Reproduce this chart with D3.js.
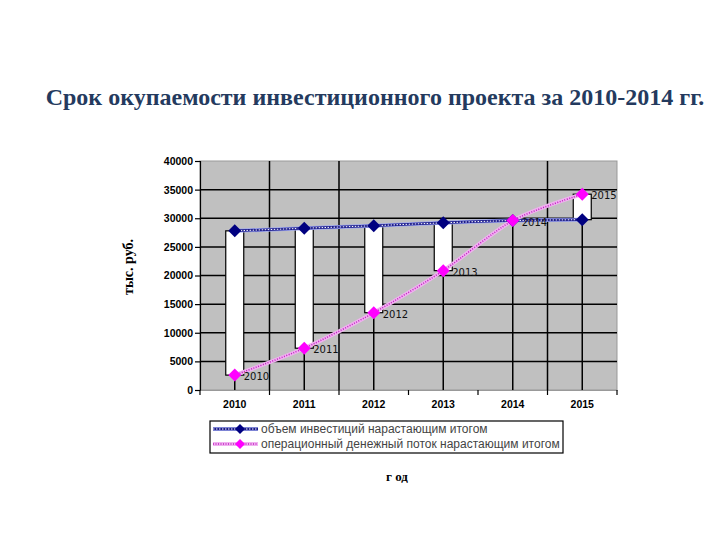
<!DOCTYPE html>
<html>
<head>
<meta charset="utf-8">
<script src="https://cdn.jsdelivr.net/npm/d3@7"></script>
<style>
  body { margin: 0; background: #fff; }
</style>
</head>
<body>
<div id="chart"></div>
<script>
// chart data
var years = ["2010", "2011", "2012", "2013", "2014", "2015"];
var invest = [27800, 28250, 28700, 29200, 29600, 29750];   // объем инвестиций
var cashflow = [2600, 7300, 13500, 20850, 29600, 34200];  // денежный поток
var yTicks = [0, 5000, 10000, 15000, 20000, 25000, 30000, 35000, 40000];
var seriesNames = ["объем инвестиций нарастающим итогом",
                   "операционный денежный поток нарастающим итогом"];

var W = 720, H = 540;
var margin = {top: 161, right: 103, bottom: 150, left: 200};
var width = W - margin.left - margin.right,
    height = H - margin.top - margin.bottom;

var svg = d3.select("#chart").append("svg")
  .attr("width", W).attr("height", H);

svg.append("text")
  .attr("x", 375).attr("y", 105)
  .attr("text-anchor", "middle")
  .style("font-family", "'Liberation Serif', 'Times New Roman', serif")
  .style("font-weight", "bold")
  .style("font-size", "24px")
  .style("fill", "#243a5e")
  .text("Срок окупаемости инвестиционного проекта за 2010-2014 гг.");

var g = svg.append("g")
  .attr("transform", "translate(" + margin.left + "," + margin.top + ")");

var x = d3.scaleBand().domain(years).range([0, width]).padding(0);
var y = d3.scaleLinear().domain([0, 40000]).range([height, 0]);
function cx(d) { return x(d) + x.bandwidth() / 2; }

// plot area
g.append("rect")
  .attr("width", width).attr("height", height)
  .attr("fill", "#c0c0c0")
  .attr("stroke", "#999").attr("stroke-width", 1);

// horizontal gridlines
g.selectAll(".hgrid").data(yTicks.filter(function(d){ return d > 0 && d < 40000; }))
  .enter().append("line")
  .attr("x1", 0).attr("x2", width)
  .attr("y1", function(d){ return y(d); }).attr("y2", function(d){ return y(d); })
  .attr("stroke", "#000").attr("stroke-width", 1.5);

// vertical gridlines (only those visible in the picture)
var vgrid = ["2011", "2012", "2015"];
g.selectAll(".vgrid").data(vgrid).enter().append("line")
  .attr("x1", function(d){ return x(d); }).attr("x2", function(d){ return x(d); })
  .attr("y1", 0).attr("y2", height)
  .attr("stroke", "#000").attr("stroke-width", 1.5);

// drop lines
g.selectAll(".drop").data(years).enter().append("line")
  .attr("x1", cx).attr("x2", cx)
  .attr("y1", function(d, i){ return y(Math.max(invest[i], cashflow[i])); })
  .attr("y2", height)
  .attr("stroke", "#000").attr("stroke-width", 1.5);

// up-down bars
var barW = 18;
g.selectAll(".bar").data(years).enter().append("rect")
  .attr("x", function(d){ return cx(d) - barW / 2; })
  .attr("width", barW)
  .attr("y", function(d, i){ return y(Math.max(invest[i], cashflow[i])); })
  .attr("height", function(d, i){ return Math.abs(y(invest[i]) - y(cashflow[i])); })
  .attr("fill", "#fff").attr("stroke", "#000").attr("stroke-width", 1.2);

// axes
var yAxis = g.append("g")
  .call(d3.axisLeft(y).tickValues(yTicks).tickSize(5).tickFormat(d3.format("d")));
yAxis.select(".domain").attr("stroke", "#000").attr("stroke-width", 1.2);
yAxis.selectAll("line").attr("stroke-width", 1.2);
yAxis.selectAll("text")
  .style("font-family", "'Liberation Sans', Arial, sans-serif")
  .style("font-weight", "bold").style("font-size", "10.5px").attr("x", -7);

var xAxis = g.append("g").attr("transform", "translate(0," + height + ")")
  .call(d3.axisBottom(x).tickSize(0).tickPadding(11));
xAxis.select(".domain").attr("stroke", "#999").attr("stroke-width", 1);
xAxis.selectAll("text")
  .style("font-family", "'Liberation Sans', Arial, sans-serif")
  .style("font-weight", "bold").style("font-size", "10.5px");
// tick marks at category boundaries
var bounds = years.map(function(d){ return x(d); }).concat([width]);
xAxis.selectAll(".btick").data(bounds).enter().append("line")
  .attr("x1", function(d){ return d; }).attr("x2", function(d){ return d; })
  .attr("y1", 0).attr("y2", 5).attr("stroke", "#000").attr("stroke-width", 1.2);

var line = d3.line().curve(d3.curveCardinal.tension(0.2));
function pts(vals) { return years.map(function(d, i){ return [cx(d), y(vals[i])]; }); }

// invest line
g.append("path").attr("d", line(pts(invest))).attr("fill", "none")
  .attr("stroke", "#9fa8ee").attr("stroke-width", 4);
g.append("path").attr("d", line(pts(invest))).attr("fill", "none")
  .attr("stroke", "#1a1a8c").attr("stroke-width", 2.5);
g.append("path").attr("d", line(pts(invest))).attr("fill", "none")
  .attr("stroke", "#fff").attr("stroke-width", 1).attr("stroke-dasharray", "1.5,1.5");

// cashflow line
g.append("path").attr("d", line(pts(cashflow))).attr("fill", "none")
  .attr("stroke", "#f0b0f0").attr("stroke-width", 4);
g.append("path").attr("d", line(pts(cashflow))).attr("fill", "none")
  .attr("stroke", "#c020c0").attr("stroke-width", 1.5).attr("stroke-dasharray", "1,1.5");

function diamond(r) { return "M0," + (-r) + "L" + r + ",0L0," + r + "L" + (-r) + ",0Z"; }
g.selectAll(".m1").data(years).enter().append("path")
  .attr("d", diamond(6.5))
  .attr("transform", function(d, i){ return "translate(" + cx(d) + "," + y(invest[i]) + ")"; })
  .attr("fill", "#000080");
g.selectAll(".m2").data(years).enter().append("path")
  .attr("d", diamond(6.5))
  .attr("transform", function(d, i){ return "translate(" + cx(d) + "," + y(cashflow[i]) + ")"; })
  .attr("fill", "#ff00ff");

// data labels
g.selectAll(".lbl").data(years).enter().append("text")
  .attr("x", function(d){ return cx(d) + 9; })
  .attr("y", function(d, i){ return y(cashflow[i]) + 5; })
  .style("font-family", "'DejaVu Sans', sans-serif")
  .style("font-size", "10px").style("fill", "#111")
  .text(function(d){ return d; });

// axis titles
svg.append("text")
  .attr("transform", "translate(133,267) rotate(-90)")
  .attr("text-anchor", "middle")
  .style("font-family", "'Liberation Serif', serif")
  .style("font-weight", "bold").style("font-size", "14px")
  .text("тыс. руб.");
svg.append("text")
  .attr("x", 397).attr("y", 481).attr("text-anchor", "middle")
  .style("font-family", "'Liberation Serif', serif")
  .style("font-weight", "bold").style("font-size", "13px")
  .text("г од");

// legend
var leg = svg.append("g").attr("transform", "translate(210,421)");
leg.append("rect").attr("width", 353).attr("height", 32)
  .attr("fill", "#fff").attr("stroke", "#000").attr("stroke-width", 1.2);
var legStyles = [
  {halo: "#9fa8ee", core: "#1a1a8c", dash: "#fff", marker: "#000080"},
  {halo: "#f0b0f0", core: "#c020c0", dash: null, marker: "#ff00ff"}
];
seriesNames.forEach(function(name, i) {
  var yy = 8 + i * 15, s = legStyles[i];
  leg.append("line").attr("x1", 3).attr("x2", 48).attr("y1", yy).attr("y2", yy)
    .attr("stroke", s.halo).attr("stroke-width", 4);
  leg.append("line").attr("x1", 3).attr("x2", 48).attr("y1", yy).attr("y2", yy)
    .attr("stroke", s.core).attr("stroke-width", i === 0 ? 2.5 : 1.5)
    .attr("stroke-dasharray", i === 0 ? null : "1,1.5");
  if (s.dash) {
    leg.append("line").attr("x1", 3).attr("x2", 48).attr("y1", yy).attr("y2", yy)
      .attr("stroke", s.dash).attr("stroke-width", 1).attr("stroke-dasharray", "1.5,1.5");
  }
  leg.append("path").attr("d", diamond(5))
    .attr("transform", "translate(30," + yy + ")").attr("fill", s.marker);
  leg.append("text").attr("x", 51).attr("y", yy + 4)
    .style("font-family", "'Liberation Sans', Arial, sans-serif")
    .style("font-size", "12px").style("fill", "#444")
    .text(name);
});
</script>
</body>
</html>
